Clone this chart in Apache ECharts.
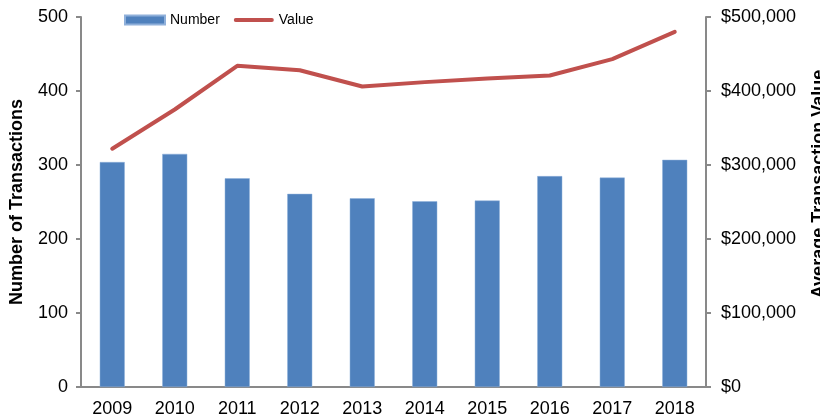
<!DOCTYPE html>
<html>
<head>
<meta charset="utf-8">
<script src="https://cdn.jsdelivr.net/npm/echarts@6/dist/echarts.min.js"></script>
<style>
  html, body { margin: 0; padding: 0; background: #fff; }
  #chart { width: 820px; height: 420px; }
</style>
</head>
<body>
<div id="chart"></div>
<script>
// chart data
const years = ['2009', '2010', '2011', '2012', '2013', '2014', '2015', '2016', '2017', '2018'];
const numberOfTransactions = [304, 315, 282, 261, 255, 251, 252, 285, 283, 307];
const avgTransactionValue = [322000, 375000, 434000, 428000, 406000, 412000, 417000, 421000, 443000, 480000];

const FONT = 'Arial, "Liberation Sans", sans-serif';
const AXIS_GREY = '#898989';

const myChart = echarts.init(document.getElementById('chart'), null, { renderer: 'canvas' });

myChart.setOption({
    animation: false,
    textStyle: { fontFamily: FONT, color: '#000' },
    legend: {
        top: 8,
        left: 119,
        itemWidth: 40,
        itemHeight: 9,
        itemGap: 14,
        textStyle: { fontFamily: FONT, fontSize: 14, color: '#000' },
        data: [
            { name: 'Number', icon: 'rect', itemStyle: { color: '#4F81BD' } },
            {
                name: 'Value',
                icon: 'path://M2,0 L40,0 A2,2 0 0 1 40,4 L2,4 A2,2 0 0 1 2,0 Z',
                itemStyle: { color: '#C0504D' }
            }
        ]
    },
    grid: {
        left: 81,
        right: 114,
        top: 17,
        bottom: 33,
        containLabel: false,
        outerBoundsMode: 'none'
    },
    xAxis: {
        type: 'category',
        data: years,
        axisLine: { lineStyle: { color: AXIS_GREY, width: 2 } },
        axisTick: { length: 5, lineStyle: { color: AXIS_GREY, width: 2 } },
        axisLabel: { color: '#000', fontFamily: FONT, fontSize: 18, margin: 13 }
    },
    yAxis: [
        {
            type: 'value',
            min: 0,
            max: 500,
            interval: 100,
            name: 'Number of Transactions',
            nameLocation: 'middle',
            nameGap: 55,
            nameTextStyle: { fontFamily: FONT, fontSize: 18, fontWeight: 'bold', color: '#000' },
            axisLine: { show: true, lineStyle: { color: AXIS_GREY, width: 2 } },
            axisTick: { show: true, length: 5, lineStyle: { color: AXIS_GREY, width: 2 } },
            axisLabel: { color: '#000', fontFamily: FONT, fontSize: 18, margin: 13 },
            splitLine: { show: false }
        },
        {
            type: 'value',
            min: 0,
            max: 500000,
            interval: 100000,
            position: 'right',
            name: 'Average Transaction Value',
            nameLocation: 'middle',
            nameGap: 104,
            nameTextStyle: {
                fontFamily: FONT, fontSize: 18, fontWeight: 'bold', color: '#000',
                padding: [0, 0, 0, 36]
            },
            axisLine: { show: true, lineStyle: { color: AXIS_GREY, width: 2 } },
            axisTick: { show: true, length: 5, lineStyle: { color: AXIS_GREY, width: 2 } },
            axisLabel: {
                color: '#000', fontFamily: FONT, fontSize: 18, margin: 15,
                formatter: function (v) { return '$' + v.toLocaleString('en-US'); }
            },
            splitLine: { show: false }
        }
    ],
    series: [
        {
            name: 'Number',
            type: 'bar',
            yAxisIndex: 0,
            barWidth: '40%',
            itemStyle: { color: '#4F81BD', borderColor: '#8FB0DA', borderWidth: 0.5 },
            data: numberOfTransactions
        },
        {
            name: 'Value',
            type: 'line',
            yAxisIndex: 1,
            symbol: 'none',
            lineStyle: { color: '#C0504D', width: 4, cap: 'round', join: 'round' },
            itemStyle: { color: '#C0504D' },
            data: avgTransactionValue
        }
    ]
});

window.onresize = function () {
    myChart.resize();
};
</script>
</body>
</html>
